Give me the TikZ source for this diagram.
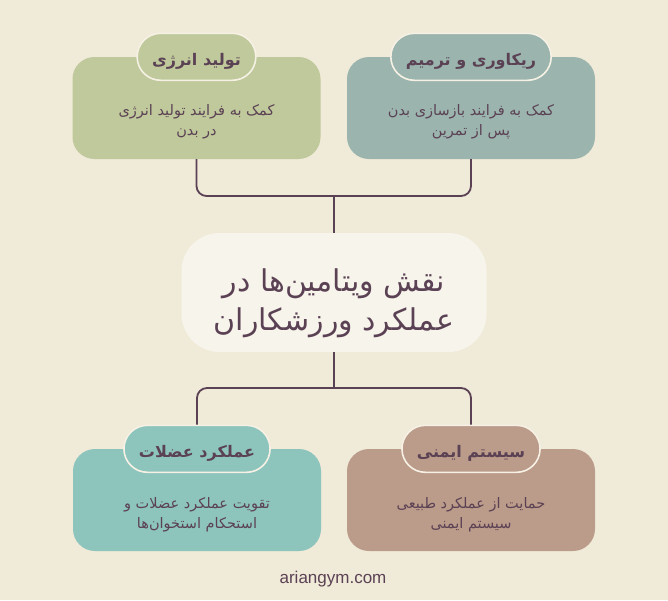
\documentclass[tikz,border=0pt]{standalone}
\usepackage{fontspec}
\setmainfont{Liberation Sans}
\newfontfamily\arabicfont[Script=Arabic]{DejaVu Sans}
\TeXXeTstate=1
\usepackage{xcolor}
\usetikzlibrary{positioning, calc}

\definecolor{bgcream}{HTML}{F0EAD8}
\definecolor{ink}{HTML}{5B4154}
\definecolor{rim}{HTML}{F6F1E4}
\definecolor{hubfill}{HTML}{F7F4EB}
\definecolor{sage}{HTML}{BFC99B}
\definecolor{slate}{HTML}{9BB5AE}
\definecolor{mint}{HTML}{8DC5BD}
\definecolor{clay}{HTML}{BB9B89}

\tikzset{
  card/.style={rounded corners=22, minimum width=248, minimum height=102, inner sep=0},
  pill/.style={draw=rim, line width=1.6, rounded corners=23.5, minimum height=47, inner xsep=15, inner ysep=0,
    text height=20, text depth=2, font=\arabicfont\bfseries\fontsize{16}{20}\selectfont, text=ink},
  blurb/.style={align=center, text=ink, inner sep=0, font=\arabicfont\fontsize{14.5}{20}\selectfont},
  hub/.style={fill=hubfill, rounded corners=38, minimum width=305, minimum height=119, inner sep=0},
  hubtext/.style={align=center, text=ink, inner sep=0, font=\arabicfont\fontsize{30}{39}\selectfont},
  link/.style={draw=ink, line width=1.8, rounded corners=10},
}

\begin{document}
\begin{tikzpicture}[x=1pt,y=1pt,yscale=-1,xscale=1]
%Shape: Background
\fill[bgcream] (0,0) rectangle (668,600);
\useasboundingbox (0,0) rectangle (668,600);

%Shape: Center box
\node[hub] (hub) at (334,292.5) {};
% Text Node
\node[hubtext] (hubtxt) at ($(hub.center)+(0,11)$) {\beginR نقش ویتامین^^^^200cها در\endR\\\beginR عملکرد ورزشکاران\endR};

%Joints
\coordinate (topjoin) at (334,196);
\coordinate (botjoin) at (334,388);

%Shape: Cards
\node[card, fill=sage] (eng) at (196.5,108) {};
\node[card, fill=slate] (rec) at (471,108) {};
\node[card, fill=mint] (mus) at (197,500) {};
\node[card, fill=clay] (imm) at (471,500) {};

%Shape: Pills
\node[pill, fill=sage] (engtitle) at (eng.north) {\beginR تولید انرژی\endR};
\node[pill, fill=slate] (rectitle) at (rec.north) {\beginR ریکاوری و ترمیم\endR};
\node[pill, fill=mint] (mustitle) at (mus.north) {\beginR عملکرد عضلات\endR};
\node[pill, fill=clay] (immtitle) at (imm.north) {\beginR سیستم ایمنی\endR};

% Text Node
\node[blurb] (engtxt) at ($(eng.center)+(0,14)$) {\beginR کمک به فرایند تولید انرژی\endR\\\beginR در بدن\endR};
% Text Node
\node[blurb] (rectxt) at ($(rec.center)+(0,14)$) {\beginR کمک به فرایند بازسازی بدن\endR\\\beginR پس از تمرین\endR};
% Text Node
\node[blurb] (mustxt) at ($(mus.center)+(0,15)$) {\beginR تقویت عملکرد عضلات و\endR\\\beginR استحکام استخوان^^^^200cها\endR};
% Text Node
\node[blurb] (immtxt) at ($(imm.center)+(0,15)$) {\beginR حمایت از عملکرد طبیعی\endR\\\beginR سیستم ایمنی\endR};

%Straight Lines
\draw[link] (eng.south) |- (topjoin);
\draw[link] (rec.south) |- (topjoin);
\draw[link] (topjoin) -- (hub.north);
\draw[link] (hub.south) -- (botjoin);
\draw[link] (botjoin) -| (mustitle.north);
\draw[link] (botjoin) -| (immtitle.north);

% Text Node
\node[text=ink, font=\fontsize{17}{20}\selectfont] (site) at (333,579) {ariangym.com};

\end{tikzpicture}
\end{document}
